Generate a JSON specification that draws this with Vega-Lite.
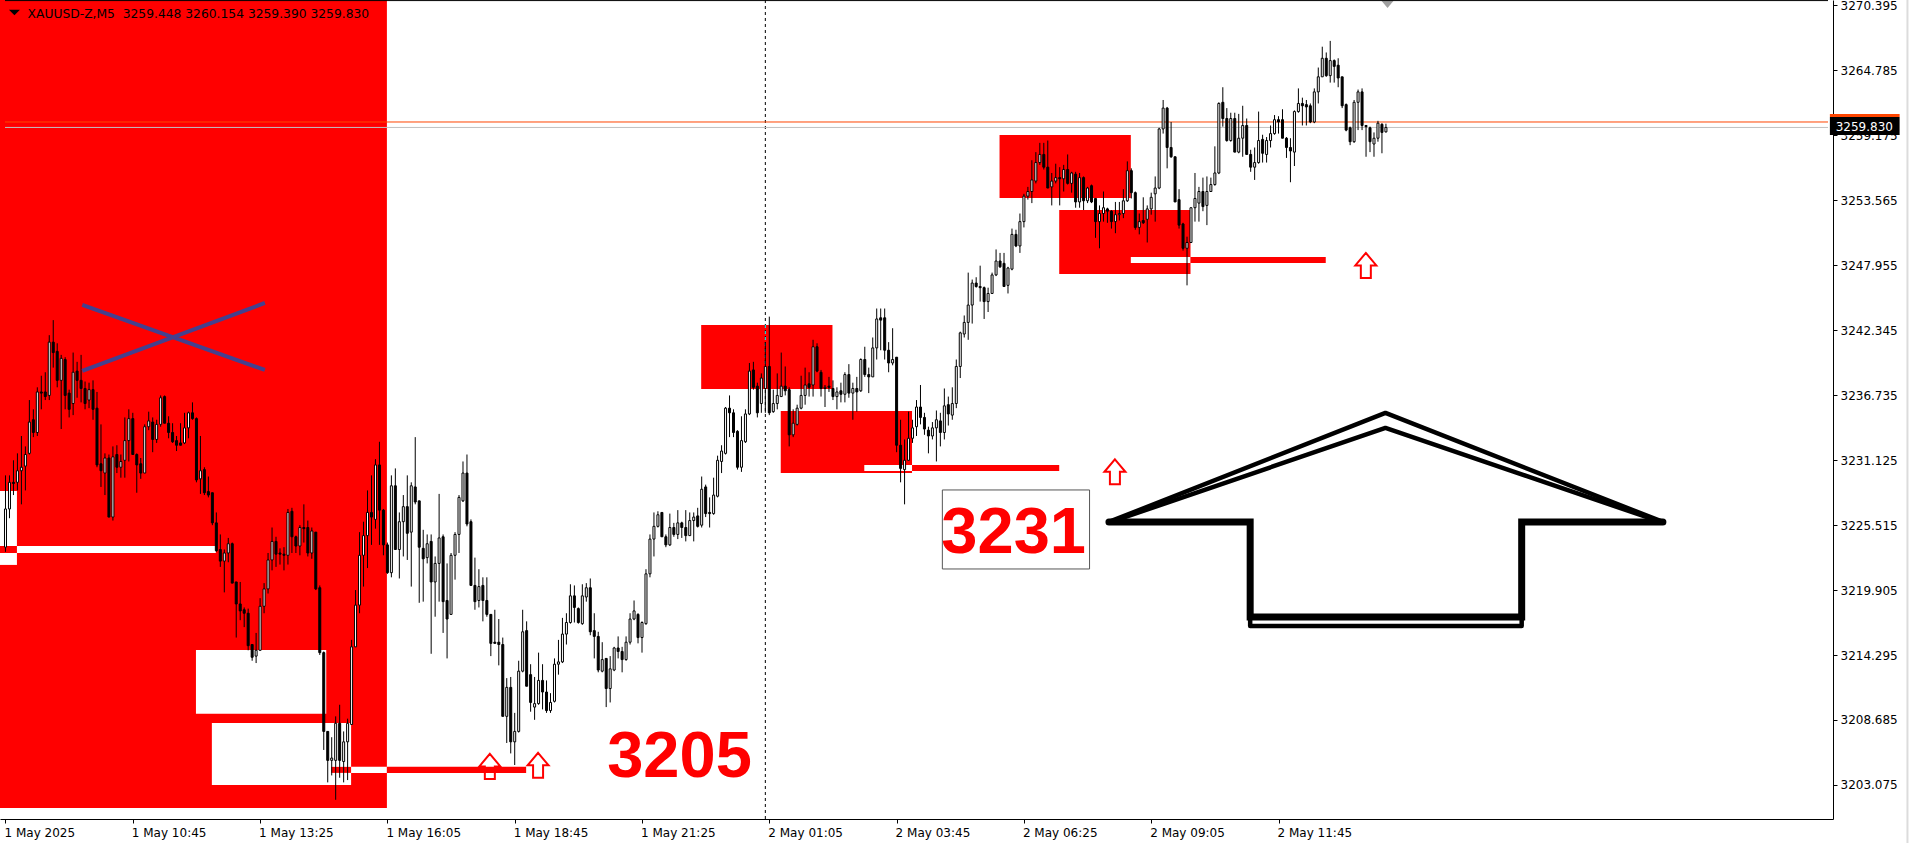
{
"$schema":"https://vega.github.io/schema/vega-lite/v6.json",
"width":1833,"height":819,
"autosize":{"type":"none"},
"padding":{"left":0,"top":0,"right":82,"bottom":24},
"background":"#FFFFFF",
"config":{"view":{"stroke":null}},
"datasets":{
"boxes":[
{"i":-2,"i2":95.875,"p":3201.1,"p2":3275,"k":"red"},
{"i":47.875,"i2":80.625,"p":3214.73,"p2":3209.22,"k":"white"},
{"i":51.875,"i2":86.875,"p":3208.43,"p2":3203.08,"k":"white"},
{"i":-2,"i2":2.875,"p":3228.46,"p2":3223.71,"k":"white"},
{"i":-2,"i2":2.875,"p":3223.10,"p2":3222.07,"k":"white"},
{"i":2.875,"i2":52.875,"p":3223.71,"p2":3223.10,"k":"white"},
{"i":174.875,"i2":207.875,"p":3242.78,"p2":3237.26,"k":"red"},
{"i":194.875,"i2":227.875,"p":3235.36,"p2":3230.01,"k":"red"},
{"i":249.875,"i2":282.875,"p":3259.18,"p2":3253.74,"k":"red"},
{"i":264.875,"i2":297.875,"p":3252.71,"p2":3247.18,"k":"red"},
{"i":81.875,"i2":86.875,"p":3204.64,"p2":3204.12,"k":"red"},
{"i":86.875,"i2":95.875,"p":3204.64,"p2":3204.12,"k":"white"},
{"i":95.875,"i2":130.875,"p":3204.64,"p2":3204.12,"k":"red"},
{"i":215.875,"i2":227.875,"p":3230.70,"p2":3230.18,"k":"white"},
{"i":227.875,"i2":264.875,"p":3230.70,"p2":3230.18,"k":"red"},
{"i":282.875,"i2":297.875,"p":3248.65,"p2":3248.13,"k":"white"},
{"i":297.875,"i2":331.875,"p":3248.65,"p2":3248.13,"k":"red"}
],
"sepb":[{"i":191,"p":3200.14,"p2":3270.83}],
"sepc":[{"i":191,"p":3242.78,"p2":3237.26}],
"lev":[{"i":-0.125,"i2":458.125,"p":3260.3,"k":"orange"},{"i":-0.125,"i2":458.125,"p":3259.83,"k":"silver"}],
"xl":[{"s":1,"n":0,"i":19.3,"p":3244.51},{"s":1,"n":1,"i":65.2,"p":3238.90},{"s":2,"n":0,"i":19.3,"p":3238.81},{"s":2,"n":1,"i":65.2,"p":3244.68}],
"ups":[{"i":121.75,"p":3204.68},{"i":133.875,"p":3204.77},{"i":278.875,"p":3230.11},{"i":341.95,"p":3247.92}],
"out":[
{"s":"a","n":0,"i":277.375,"p":3225.78},{"s":"a","n":1,"i":346.875,"p":3235.19},{"s":"a","n":2,"i":416.625,"p":3225.78},
{"s":"b","n":0,"i":277.875,"p":3225.78},{"s":"b","n":1,"i":346.875,"p":3233.89},{"s":"b","n":2,"i":416.125,"p":3225.78},
{"s":"d","n":0,"i":312.875,"p":3217.58},{"s":"d","n":1,"i":312.875,"p":3216.80},{"s":"d","n":2,"i":381.125,"p":3216.80},{"s":"d","n":3,"i":381.125,"p":3217.58},
{"s":"c","n":0,"i":277.375,"p":3225.78},{"s":"c","n":1,"i":312.875,"p":3225.78},{"s":"c","n":2,"i":312.875,"p":3217.58},{"s":"c","n":3,"i":381.125,"p":3217.58},{"s":"c","n":4,"i":381.125,"p":3225.78},{"s":"c","n":5,"i":416.625,"p":3225.78}
],
"tbox":[{"i":235.5,"i2":272.5,"p":3221.72,"p2":3228.54}],
"big":[{"i":151.25,"p":3203.77,"t":"3205"},{"i":235.25,"p":3223.10,"t":"3231"}],
"hdr":[{"i":5.55,"p":3269.30,"t":"XAUUSD-Z,M5\u00a0 3259.448 3260.154 3259.390 3259.830"}],
"tri":[{"i":2.25,"p":3269.75}],
"mark":[{"i":347.4,"p":3270.48}],
"plab":[{"i":458.6,"i2":476.125,"p":3259.18,"p2":3260.73,"k":"black"},{"i":458.6,"i2":476.125,"p":3260.73,"p2":3260.99,"k":"orange"}],
"ptxt":[{"i":460.05,"p":3259.85,"t":"3259.830"}],
"edge":[{"i":-0.125,"i2":458.125,"p":3270.78}],
"win":[{"i":478.1,"p":3270.83,"p2":3198.07}],
"c":[
{"i":0,"o":3223.6,"h":3229.8,"l":3223.2,"c":3226.9},
{"i":1,"o":3226.9,"h":3229.8,"l":3226.1,"c":3229.2},
{"i":2,"o":3229.2,"h":3231.1,"l":3228.1,"c":3229.1},
{"i":3,"o":3229.2,"h":3231.7,"l":3228.5,"c":3230.2},
{"i":4,"o":3230.2,"h":3233.2,"l":3227.3,"c":3230.5},
{"i":5,"o":3230.6,"h":3232.3,"l":3228.5,"c":3231.6},
{"i":6,"o":3231.7,"h":3236.3,"l":3231.6,"c":3234.4},
{"i":7,"o":3234.6,"h":3235.5,"l":3233.1,"c":3233.5},
{"i":8,"o":3233.5,"h":3237.4,"l":3233.2,"c":3237.0},
{"i":9,"o":3237.0,"h":3238.4,"l":3235.5,"c":3236.9},
{"i":10,"o":3237.0,"h":3238.7,"l":3236.3,"c":3236.6},
{"i":11,"o":3236.7,"h":3241.9,"l":3236.3,"c":3241.3},
{"i":12,"o":3241.3,"h":3243.2,"l":3239.1,"c":3240.4},
{"i":13,"o":3240.5,"h":3241.2,"l":3237.4,"c":3238.0},
{"i":14,"o":3238.0,"h":3240.2,"l":3233.8,"c":3239.9},
{"i":15,"o":3239.8,"h":3240.0,"l":3235.5,"c":3236.7},
{"i":16,"o":3236.9,"h":3237.2,"l":3234.8,"c":3235.5},
{"i":17,"o":3236.0,"h":3240.4,"l":3235.0,"c":3238.7},
{"i":18,"o":3238.8,"h":3239.6,"l":3236.5,"c":3238.0},
{"i":19,"o":3238.0,"h":3240.2,"l":3236.1,"c":3237.3},
{"i":20,"o":3237.3,"h":3237.9,"l":3235.5,"c":3236.0},
{"i":21,"o":3236.3,"h":3237.8,"l":3235.6,"c":3237.2},
{"i":22,"o":3237.2,"h":3238.0,"l":3234.6,"c":3235.5},
{"i":23,"o":3235.6,"h":3237.0,"l":3230.5,"c":3230.7},
{"i":24,"o":3230.8,"h":3234.2,"l":3228.8,"c":3230.2},
{"i":25,"o":3230.0,"h":3231.7,"l":3228.1,"c":3231.3},
{"i":26,"o":3231.3,"h":3231.6,"l":3226.2,"c":3226.2},
{"i":27,"o":3226.2,"h":3232.3,"l":3225.9,"c":3231.4},
{"i":28,"o":3231.6,"h":3232.4,"l":3230.0,"c":3230.5},
{"i":29,"o":3230.5,"h":3231.6,"l":3229.6,"c":3231.0},
{"i":30,"o":3231.1,"h":3234.8,"l":3229.6,"c":3232.8},
{"i":31,"o":3232.8,"h":3235.5,"l":3231.0,"c":3234.7},
{"i":32,"o":3234.7,"h":3235.2,"l":3231.6,"c":3231.6},
{"i":33,"o":3231.6,"h":3231.7,"l":3228.3,"c":3230.7},
{"i":34,"o":3230.8,"h":3231.3,"l":3229.5,"c":3230.0},
{"i":35,"o":3230.0,"h":3234.2,"l":3230.0,"c":3234.0},
{"i":36,"o":3234.0,"h":3235.3,"l":3233.7,"c":3234.5},
{"i":37,"o":3234.4,"h":3234.8,"l":3231.8,"c":3232.9},
{"i":38,"o":3232.9,"h":3234.6,"l":3232.6,"c":3234.2},
{"i":39,"o":3234.2,"h":3236.7,"l":3234.0,"c":3236.5},
{"i":40,"o":3236.6,"h":3236.7,"l":3234.3,"c":3234.3},
{"i":41,"o":3234.3,"h":3234.9,"l":3233.0,"c":3233.5},
{"i":42,"o":3233.5,"h":3234.3,"l":3232.6,"c":3232.7},
{"i":43,"o":3232.8,"h":3233.2,"l":3231.9,"c":3232.4},
{"i":44,"o":3232.6,"h":3234.3,"l":3232.4,"c":3232.4},
{"i":45,"o":3232.6,"h":3235.2,"l":3232.5,"c":3233.9},
{"i":46,"o":3233.9,"h":3235.3,"l":3233.0,"c":3235.2},
{"i":47,"o":3235.2,"h":3236.1,"l":3234.6,"c":3234.7},
{"i":48,"o":3234.7,"h":3234.8,"l":3229.2,"c":3229.4},
{"i":49,"o":3229.5,"h":3233.2,"l":3228.2,"c":3230.2},
{"i":50,"o":3230.3,"h":3230.5,"l":3228.1,"c":3228.3},
{"i":51,"o":3228.4,"h":3229.7,"l":3227.9,"c":3228.1},
{"i":52,"o":3228.3,"h":3228.3,"l":3225.5,"c":3225.7},
{"i":53,"o":3225.7,"h":3226.6,"l":3223.2,"c":3223.3},
{"i":54,"o":3223.4,"h":3224.7,"l":3221.9,"c":3222.4},
{"i":55,"o":3222.4,"h":3223.4,"l":3219.7,"c":3223.1},
{"i":56,"o":3223.1,"h":3224.4,"l":3222.3,"c":3223.9},
{"i":57,"o":3223.9,"h":3224.0,"l":3220.5,"c":3220.5},
{"i":58,"o":3220.6,"h":3220.6,"l":3215.8,"c":3218.7},
{"i":59,"o":3218.7,"h":3220.6,"l":3217.3,"c":3218.1},
{"i":60,"o":3218.2,"h":3218.4,"l":3216.7,"c":3217.9},
{"i":61,"o":3217.9,"h":3218.3,"l":3214.7,"c":3215.1},
{"i":62,"o":3215.2,"h":3215.2,"l":3213.8,"c":3214.1},
{"i":63,"o":3214.2,"h":3216.2,"l":3213.6,"c":3214.7},
{"i":64,"o":3214.7,"h":3219.2,"l":3214.7,"c":3218.5},
{"i":65,"o":3218.5,"h":3220.5,"l":3217.9,"c":3220.0},
{"i":66,"o":3220.0,"h":3223.1,"l":3219.6,"c":3222.5},
{"i":67,"o":3222.5,"h":3225.3,"l":3221.6,"c":3224.1},
{"i":68,"o":3224.1,"h":3224.5,"l":3221.9,"c":3223.0},
{"i":69,"o":3223.1,"h":3223.5,"l":3222.1,"c":3223.0},
{"i":70,"o":3223.0,"h":3223.6,"l":3221.6,"c":3222.9},
{"i":71,"o":3222.9,"h":3226.9,"l":3222.1,"c":3226.6},
{"i":72,"o":3226.7,"h":3227.0,"l":3223.1,"c":3224.5},
{"i":73,"o":3224.5,"h":3224.6,"l":3223.1,"c":3223.7},
{"i":74,"o":3223.7,"h":3225.5,"l":3222.9,"c":3225.3},
{"i":75,"o":3225.3,"h":3227.3,"l":3224.0,"c":3225.2},
{"i":76,"o":3225.3,"h":3225.9,"l":3222.8,"c":3223.1},
{"i":77,"o":3223.1,"h":3225.3,"l":3222.6,"c":3225.0},
{"i":78,"o":3224.9,"h":3224.9,"l":3219.9,"c":3220.0},
{"i":79,"o":3220.1,"h":3220.3,"l":3214.3,"c":3214.5},
{"i":80,"o":3214.5,"h":3214.6,"l":3206.1,"c":3207.7},
{"i":81,"o":3207.7,"h":3207.7,"l":3203.3,"c":3205.2},
{"i":82,"o":3205.2,"h":3207.2,"l":3203.9,"c":3205.4},
{"i":83,"o":3205.2,"h":3209.0,"l":3201.8,"c":3208.4},
{"i":84,"o":3208.4,"h":3210.0,"l":3203.7,"c":3205.2},
{"i":85,"o":3205.1,"h":3207.7,"l":3203.3,"c":3206.8},
{"i":86,"o":3206.8,"h":3208.8,"l":3203.5,"c":3208.4},
{"i":87,"o":3208.3,"h":3215.6,"l":3208.3,"c":3215.0},
{"i":88,"o":3215.0,"h":3219.9,"l":3215.0,"c":3218.6},
{"i":89,"o":3218.6,"h":3224.9,"l":3217.9,"c":3222.9},
{"i":90,"o":3222.9,"h":3225.8,"l":3220.2,"c":3224.6},
{"i":91,"o":3224.6,"h":3228.5,"l":3221.8,"c":3226.6},
{"i":92,"o":3226.6,"h":3229.8,"l":3223.8,"c":3226.2},
{"i":93,"o":3226.0,"h":3231.2,"l":3225.2,"c":3230.7},
{"i":94,"o":3230.7,"h":3232.7,"l":3223.8,"c":3226.8},
{"i":95,"o":3226.8,"h":3226.9,"l":3222.9,"c":3223.8},
{"i":96,"o":3223.8,"h":3224.0,"l":3221.3,"c":3221.4},
{"i":97,"o":3221.4,"h":3229.8,"l":3221.0,"c":3228.9},
{"i":98,"o":3228.9,"h":3230.4,"l":3223.4,"c":3223.4},
{"i":99,"o":3223.4,"h":3226.6,"l":3220.9,"c":3225.8},
{"i":100,"o":3225.8,"h":3228.1,"l":3222.8,"c":3227.1},
{"i":101,"o":3227.1,"h":3229.8,"l":3222.5,"c":3224.8},
{"i":102,"o":3224.9,"h":3229.2,"l":3220.2,"c":3228.9},
{"i":103,"o":3228.8,"h":3233.1,"l":3227.3,"c":3227.5},
{"i":104,"o":3227.6,"h":3227.6,"l":3218.8,"c":3223.6},
{"i":105,"o":3223.5,"h":3225.1,"l":3218.9,"c":3222.6},
{"i":106,"o":3222.7,"h":3224.7,"l":3222.2,"c":3223.9},
{"i":107,"o":3224.1,"h":3224.7,"l":3214.4,"c":3220.6},
{"i":108,"o":3220.6,"h":3222.8,"l":3217.6,"c":3222.2},
{"i":109,"o":3222.2,"h":3228.2,"l":3218.9,"c":3224.4},
{"i":110,"o":3224.5,"h":3224.7,"l":3216.2,"c":3218.9},
{"i":111,"o":3219.0,"h":3222.2,"l":3214.0,"c":3217.4},
{"i":112,"o":3217.8,"h":3223.1,"l":3217.8,"c":3222.9},
{"i":113,"o":3222.9,"h":3224.9,"l":3220.8,"c":3224.7},
{"i":114,"o":3224.7,"h":3228.1,"l":3223.1,"c":3227.9},
{"i":115,"o":3227.6,"h":3231.0,"l":3227.5,"c":3230.0},
{"i":116,"o":3230.0,"h":3231.6,"l":3225.4,"c":3225.6},
{"i":117,"o":3225.8,"h":3226.0,"l":3220.3,"c":3220.3},
{"i":118,"o":3220.3,"h":3222.7,"l":3218.2,"c":3218.9},
{"i":119,"o":3219.0,"h":3221.7,"l":3218.4,"c":3220.2},
{"i":120,"o":3220.3,"h":3221.0,"l":3217.2,"c":3219.0},
{"i":121,"o":3219.0,"h":3221.0,"l":3217.6,"c":3217.8},
{"i":122,"o":3217.8,"h":3217.8,"l":3214.2,"c":3215.3},
{"i":123,"o":3215.4,"h":3218.2,"l":3215.3,"c":3215.3},
{"i":124,"o":3215.4,"h":3217.4,"l":3213.4,"c":3215.2},
{"i":125,"o":3215.2,"h":3215.8,"l":3209.0,"c":3209.0},
{"i":126,"o":3209.0,"h":3212.3,"l":3206.7,"c":3211.5},
{"i":127,"o":3211.5,"h":3212.4,"l":3205.8,"c":3206.8},
{"i":128,"o":3206.8,"h":3209.3,"l":3204.8,"c":3207.7},
{"i":129,"o":3207.7,"h":3213.8,"l":3207.6,"c":3212.9},
{"i":130,"o":3212.9,"h":3218.2,"l":3212.8,"c":3216.3},
{"i":131,"o":3216.4,"h":3217.2,"l":3211.6,"c":3211.6},
{"i":132,"o":3212.6,"h":3213.5,"l":3209.4,"c":3210.2},
{"i":133,"o":3209.8,"h":3212.4,"l":3208.7,"c":3210.1},
{"i":134,"o":3210.1,"h":3214.5,"l":3210.0,"c":3212.1},
{"i":135,"o":3212.1,"h":3213.5,"l":3209.6,"c":3211.1},
{"i":136,"o":3211.1,"h":3212.1,"l":3209.3,"c":3209.5},
{"i":137,"o":3209.5,"h":3211.0,"l":3209.3,"c":3210.2},
{"i":138,"o":3210.3,"h":3214.0,"l":3210.2,"c":3213.5},
{"i":139,"o":3213.5,"h":3215.6,"l":3212.6,"c":3213.7},
{"i":140,"o":3213.7,"h":3217.5,"l":3213.6,"c":3216.1},
{"i":141,"o":3216.1,"h":3217.9,"l":3215.2,"c":3217.1},
{"i":142,"o":3217.1,"h":3220.4,"l":3217.0,"c":3219.4},
{"i":143,"o":3219.4,"h":3220.3,"l":3217.1,"c":3218.4},
{"i":144,"o":3218.3,"h":3218.4,"l":3217.0,"c":3217.1},
{"i":145,"o":3217.0,"h":3220.4,"l":3216.9,"c":3219.4},
{"i":146,"o":3219.3,"h":3220.5,"l":3218.9,"c":3220.1},
{"i":147,"o":3220.1,"h":3220.9,"l":3216.0,"c":3216.3},
{"i":148,"o":3216.4,"h":3217.9,"l":3214.0,"c":3215.9},
{"i":149,"o":3215.9,"h":3216.3,"l":3212.8,"c":3213.0},
{"i":150,"o":3212.9,"h":3215.4,"l":3212.8,"c":3213.9},
{"i":151,"o":3214.0,"h":3214.0,"l":3209.8,"c":3211.4},
{"i":152,"o":3211.4,"h":3214.2,"l":3210.2,"c":3213.1},
{"i":153,"o":3213.0,"h":3215.0,"l":3212.9,"c":3214.9},
{"i":154,"o":3214.9,"h":3215.9,"l":3214.0,"c":3214.6},
{"i":155,"o":3214.6,"h":3215.0,"l":3212.8,"c":3213.9},
{"i":156,"o":3213.9,"h":3215.9,"l":3213.8,"c":3215.4},
{"i":157,"o":3215.4,"h":3217.9,"l":3215.2,"c":3217.4},
{"i":158,"o":3217.4,"h":3219.0,"l":3217.3,"c":3218.1},
{"i":159,"o":3217.8,"h":3217.9,"l":3215.3,"c":3215.8},
{"i":160,"o":3215.8,"h":3217.2,"l":3214.5,"c":3217.1},
{"i":161,"o":3217.0,"h":3221.7,"l":3216.9,"c":3221.3},
{"i":162,"o":3221.3,"h":3224.7,"l":3221.0,"c":3224.3},
{"i":163,"o":3224.3,"h":3226.6,"l":3222.8,"c":3225.4},
{"i":164,"o":3225.4,"h":3226.7,"l":3225.3,"c":3226.4},
{"i":165,"o":3226.6,"h":3226.6,"l":3224.5,"c":3224.5},
{"i":166,"o":3224.5,"h":3224.7,"l":3223.6,"c":3223.8},
{"i":167,"o":3223.8,"h":3226.5,"l":3223.7,"c":3225.3},
{"i":168,"o":3225.3,"h":3225.7,"l":3224.5,"c":3224.7},
{"i":169,"o":3224.7,"h":3226.8,"l":3224.3,"c":3225.7},
{"i":170,"o":3225.7,"h":3225.8,"l":3224.4,"c":3225.3},
{"i":171,"o":3225.3,"h":3226.8,"l":3224.1,"c":3224.6},
{"i":172,"o":3224.6,"h":3226.6,"l":3224.6,"c":3225.9},
{"i":173,"o":3225.9,"h":3226.6,"l":3224.1,"c":3226.2},
{"i":174,"o":3226.3,"h":3227.0,"l":3225.3,"c":3225.4},
{"i":175,"o":3225.5,"h":3229.7,"l":3225.3,"c":3228.6},
{"i":176,"o":3228.8,"h":3229.0,"l":3226.2,"c":3226.5},
{"i":177,"o":3226.6,"h":3227.9,"l":3225.3,"c":3226.5},
{"i":178,"o":3226.5,"h":3229.6,"l":3226.4,"c":3228.1},
{"i":179,"o":3228.0,"h":3231.5,"l":3227.9,"c":3231.1},
{"i":180,"o":3231.0,"h":3232.4,"l":3230.0,"c":3231.9},
{"i":181,"o":3231.7,"h":3235.7,"l":3231.6,"c":3235.6},
{"i":182,"o":3235.6,"h":3236.7,"l":3233.1,"c":3235.2},
{"i":183,"o":3235.2,"h":3235.5,"l":3233.1,"c":3233.5},
{"i":184,"o":3233.6,"h":3233.7,"l":3230.3,"c":3230.5},
{"i":185,"o":3230.5,"h":3234.9,"l":3230.1,"c":3232.8},
{"i":186,"o":3232.7,"h":3235.5,"l":3232.6,"c":3235.1},
{"i":187,"o":3235.1,"h":3239.5,"l":3235.0,"c":3238.8},
{"i":188,"o":3238.9,"h":3239.6,"l":3237.2,"c":3237.4},
{"i":189,"o":3237.5,"h":3237.8,"l":3234.8,"c":3235.2},
{"i":190,"o":3236.0,"h":3238.6,"l":3235.2,"c":3238.2},
{"i":191,"o":3237.3,"h":3241.3,"l":3235.2,"c":3239.2},
{"i":192,"o":3239.2,"h":3243.5,"l":3235.0,"c":3235.2},
{"i":193,"o":3235.3,"h":3237.2,"l":3235.2,"c":3236.0},
{"i":194,"o":3236.0,"h":3238.6,"l":3235.5,"c":3236.7},
{"i":195,"o":3236.6,"h":3240.4,"l":3236.6,"c":3237.5},
{"i":196,"o":3237.5,"h":3239.2,"l":3236.7,"c":3237.1},
{"i":197,"o":3237.2,"h":3237.4,"l":3232.3,"c":3233.3},
{"i":198,"o":3233.3,"h":3235.5,"l":3233.1,"c":3234.3},
{"i":199,"o":3234.2,"h":3235.9,"l":3234.1,"c":3235.6},
{"i":200,"o":3235.6,"h":3238.4,"l":3235.5,"c":3236.7},
{"i":201,"o":3236.7,"h":3239.1,"l":3235.9,"c":3237.6},
{"i":202,"o":3237.7,"h":3238.7,"l":3236.6,"c":3237.4},
{"i":203,"o":3237.6,"h":3241.5,"l":3236.6,"c":3240.9},
{"i":204,"o":3240.9,"h":3241.2,"l":3238.7,"c":3238.8},
{"i":205,"o":3238.7,"h":3238.9,"l":3236.6,"c":3237.3},
{"i":206,"o":3237.3,"h":3237.6,"l":3235.7,"c":3237.4},
{"i":207,"o":3237.5,"h":3238.3,"l":3237.0,"c":3237.4},
{"i":208,"o":3237.3,"h":3238.0,"l":3236.3,"c":3236.6},
{"i":209,"o":3236.6,"h":3237.4,"l":3235.5,"c":3237.0},
{"i":210,"o":3237.1,"h":3237.8,"l":3236.1,"c":3236.8},
{"i":211,"o":3236.8,"h":3238.7,"l":3236.1,"c":3238.5},
{"i":212,"o":3238.5,"h":3239.4,"l":3236.5,"c":3236.9},
{"i":213,"o":3236.9,"h":3237.8,"l":3234.6,"c":3237.3},
{"i":214,"o":3237.3,"h":3238.3,"l":3235.3,"c":3237.0},
{"i":215,"o":3237.1,"h":3239.9,"l":3237.0,"c":3239.8},
{"i":216,"o":3239.8,"h":3240.9,"l":3238.3,"c":3238.5},
{"i":217,"o":3238.5,"h":3239.1,"l":3236.9,"c":3238.3},
{"i":218,"o":3238.3,"h":3241.7,"l":3238.3,"c":3240.8},
{"i":219,"o":3240.8,"h":3244.2,"l":3239.8,"c":3243.3},
{"i":220,"o":3243.4,"h":3244.2,"l":3240.6,"c":3243.2},
{"i":221,"o":3243.4,"h":3244.2,"l":3239.8,"c":3240.6},
{"i":222,"o":3240.6,"h":3241.3,"l":3238.7,"c":3239.5},
{"i":223,"o":3239.5,"h":3242.5,"l":3239.3,"c":3239.8},
{"i":224,"o":3240.0,"h":3240.0,"l":3231.8,"c":3232.4},
{"i":225,"o":3232.4,"h":3234.6,"l":3229.2,"c":3230.4},
{"i":226,"o":3230.3,"h":3232.9,"l":3227.3,"c":3231.1},
{"i":227,"o":3231.1,"h":3235.3,"l":3231.1,"c":3233.0},
{"i":228,"o":3233.0,"h":3234.6,"l":3232.6,"c":3233.9},
{"i":229,"o":3234.0,"h":3236.3,"l":3233.2,"c":3235.7},
{"i":230,"o":3235.7,"h":3237.6,"l":3234.2,"c":3234.8},
{"i":231,"o":3234.8,"h":3235.2,"l":3233.3,"c":3233.8},
{"i":232,"o":3233.7,"h":3234.0,"l":3231.7,"c":3233.2},
{"i":233,"o":3233.2,"h":3234.4,"l":3232.9,"c":3233.9},
{"i":234,"o":3233.9,"h":3235.4,"l":3231.0,"c":3234.6},
{"i":235,"o":3234.5,"h":3235.2,"l":3232.3,"c":3233.5},
{"i":236,"o":3233.5,"h":3237.3,"l":3232.9,"c":3235.8},
{"i":237,"o":3235.9,"h":3236.6,"l":3234.1,"c":3235.1},
{"i":238,"o":3235.0,"h":3237.4,"l":3234.6,"c":3236.0},
{"i":239,"o":3236.0,"h":3239.8,"l":3235.6,"c":3239.2},
{"i":240,"o":3239.2,"h":3242.2,"l":3238.2,"c":3242.1},
{"i":241,"o":3242.0,"h":3243.6,"l":3241.7,"c":3243.0},
{"i":242,"o":3243.0,"h":3247.3,"l":3241.5,"c":3244.5},
{"i":243,"o":3244.5,"h":3246.7,"l":3242.9,"c":3246.4},
{"i":244,"o":3246.4,"h":3246.9,"l":3246.0,"c":3246.1},
{"i":245,"o":3246.1,"h":3247.9,"l":3244.8,"c":3246.0},
{"i":246,"o":3246.0,"h":3246.1,"l":3243.3,"c":3244.8},
{"i":247,"o":3244.8,"h":3246.0,"l":3243.9,"c":3245.5},
{"i":248,"o":3245.5,"h":3247.3,"l":3245.5,"c":3247.1},
{"i":249,"o":3247.1,"h":3249.3,"l":3247.0,"c":3248.3},
{"i":250,"o":3248.3,"h":3249.0,"l":3247.7,"c":3247.8},
{"i":251,"o":3248.1,"h":3249.0,"l":3246.1,"c":3246.1},
{"i":252,"o":3246.2,"h":3247.8,"l":3245.5,"c":3247.7},
{"i":253,"o":3247.6,"h":3251.1,"l":3247.5,"c":3250.6},
{"i":254,"o":3250.6,"h":3251.0,"l":3249.5,"c":3249.6},
{"i":255,"o":3249.6,"h":3252.4,"l":3249.0,"c":3251.7},
{"i":256,"o":3251.7,"h":3254.1,"l":3251.2,"c":3253.9},
{"i":257,"o":3253.9,"h":3254.7,"l":3253.6,"c":3254.3},
{"i":258,"o":3254.3,"h":3257.0,"l":3253.3,"c":3255.3},
{"i":259,"o":3255.2,"h":3257.7,"l":3255.0,"c":3256.8},
{"i":260,"o":3256.8,"h":3258.5,"l":3256.6,"c":3257.5},
{"i":261,"o":3257.5,"h":3258.5,"l":3256.2,"c":3256.4},
{"i":262,"o":3256.4,"h":3258.7,"l":3254.6,"c":3254.6},
{"i":263,"o":3254.7,"h":3255.9,"l":3253.1,"c":3255.2},
{"i":264,"o":3255.2,"h":3256.7,"l":3255.0,"c":3255.5},
{"i":265,"o":3255.5,"h":3256.4,"l":3253.1,"c":3255.4},
{"i":266,"o":3255.4,"h":3256.6,"l":3254.3,"c":3256.2},
{"i":267,"o":3256.2,"h":3257.5,"l":3254.9,"c":3255.0},
{"i":268,"o":3255.0,"h":3256.0,"l":3254.2,"c":3255.9},
{"i":269,"o":3255.8,"h":3256.0,"l":3252.9,"c":3253.4},
{"i":270,"o":3253.4,"h":3255.9,"l":3252.9,"c":3255.5},
{"i":271,"o":3255.5,"h":3255.6,"l":3252.7,"c":3253.5},
{"i":272,"o":3253.5,"h":3254.7,"l":3253.3,"c":3254.6},
{"i":273,"o":3254.8,"h":3254.9,"l":3253.3,"c":3253.4},
{"i":274,"o":3253.7,"h":3253.7,"l":3250.3,"c":3251.7},
{"i":275,"o":3251.7,"h":3253.1,"l":3249.4,"c":3252.4},
{"i":276,"o":3252.4,"h":3254.3,"l":3251.7,"c":3252.9},
{"i":277,"o":3252.8,"h":3252.9,"l":3251.6,"c":3252.6},
{"i":278,"o":3252.6,"h":3252.7,"l":3251.1,"c":3251.7},
{"i":279,"o":3251.7,"h":3253.4,"l":3250.7,"c":3252.3},
{"i":280,"o":3252.3,"h":3253.4,"l":3251.8,"c":3252.4},
{"i":281,"o":3252.4,"h":3254.5,"l":3252.0,"c":3253.5},
{"i":282,"o":3253.5,"h":3256.9,"l":3253.4,"c":3256.1},
{"i":283,"o":3256.1,"h":3256.3,"l":3253.7,"c":3254.2},
{"i":284,"o":3254.2,"h":3254.3,"l":3251.0,"c":3251.2},
{"i":285,"o":3251.2,"h":3252.4,"l":3250.6,"c":3251.7},
{"i":286,"o":3251.8,"h":3253.8,"l":3251.5,"c":3251.6},
{"i":287,"o":3251.9,"h":3253.1,"l":3249.9,"c":3252.8},
{"i":288,"o":3252.8,"h":3254.2,"l":3252.3,"c":3253.8},
{"i":289,"o":3254.1,"h":3255.6,"l":3251.7,"c":3254.6},
{"i":290,"o":3254.6,"h":3259.8,"l":3254.5,"c":3259.7},
{"i":291,"o":3259.7,"h":3262.2,"l":3259.3,"c":3261.5},
{"i":292,"o":3261.5,"h":3261.6,"l":3256.3,"c":3258.1},
{"i":293,"o":3258.1,"h":3260.3,"l":3257.2,"c":3257.3},
{"i":294,"o":3257.3,"h":3257.3,"l":3253.4,"c":3253.4},
{"i":295,"o":3253.6,"h":3254.5,"l":3251.1,"c":3251.4},
{"i":296,"o":3251.5,"h":3251.6,"l":3249.2,"c":3249.4},
{"i":297,"o":3249.4,"h":3250.4,"l":3246.2,"c":3249.9},
{"i":298,"o":3249.9,"h":3252.9,"l":3249.9,"c":3252.9},
{"i":299,"o":3252.9,"h":3255.9,"l":3251.7,"c":3253.7},
{"i":300,"o":3253.3,"h":3254.7,"l":3251.7,"c":3254.3},
{"i":301,"o":3254.3,"h":3255.5,"l":3252.6,"c":3253.0},
{"i":302,"o":3253.1,"h":3255.6,"l":3251.4,"c":3254.3},
{"i":303,"o":3254.3,"h":3255.5,"l":3254.3,"c":3254.9},
{"i":304,"o":3254.9,"h":3258.2,"l":3254.8,"c":3255.9},
{"i":305,"o":3255.9,"h":3262.0,"l":3255.8,"c":3261.9},
{"i":306,"o":3262.0,"h":3263.3,"l":3259.9,"c":3260.6},
{"i":307,"o":3260.6,"h":3261.5,"l":3258.6,"c":3258.7},
{"i":308,"o":3258.7,"h":3261.1,"l":3258.6,"c":3260.6},
{"i":309,"o":3260.6,"h":3261.1,"l":3257.7,"c":3257.7},
{"i":310,"o":3257.7,"h":3261.0,"l":3257.6,"c":3258.9},
{"i":311,"o":3258.9,"h":3261.7,"l":3257.3,"c":3260.0},
{"i":312,"o":3260.0,"h":3260.6,"l":3257.5,"c":3257.5},
{"i":313,"o":3257.5,"h":3257.9,"l":3256.0,"c":3256.4},
{"i":314,"o":3256.4,"h":3258.1,"l":3255.3,"c":3256.8},
{"i":315,"o":3256.8,"h":3261.2,"l":3256.7,"c":3258.7},
{"i":316,"o":3258.8,"h":3259.2,"l":3256.8,"c":3257.6},
{"i":317,"o":3257.5,"h":3259.0,"l":3256.8,"c":3258.7},
{"i":318,"o":3258.7,"h":3260.0,"l":3258.1,"c":3259.3},
{"i":319,"o":3259.3,"h":3260.9,"l":3259.2,"c":3260.5},
{"i":320,"o":3260.5,"h":3260.8,"l":3259.3,"c":3260.3},
{"i":321,"o":3260.5,"h":3261.4,"l":3258.9,"c":3258.9},
{"i":322,"o":3258.9,"h":3259.0,"l":3257.2,"c":3258.1},
{"i":323,"o":3258.1,"h":3258.9,"l":3255.1,"c":3257.8},
{"i":324,"o":3257.7,"h":3261.3,"l":3256.5,"c":3261.2},
{"i":325,"o":3261.2,"h":3263.2,"l":3261.1,"c":3261.9},
{"i":326,"o":3261.9,"h":3262.4,"l":3260.0,"c":3261.7},
{"i":327,"o":3261.8,"h":3262.2,"l":3260.0,"c":3261.6},
{"i":328,"o":3261.7,"h":3261.9,"l":3260.2,"c":3260.3},
{"i":329,"o":3260.3,"h":3263.2,"l":3260.2,"c":3262.9},
{"i":330,"o":3262.9,"h":3265.0,"l":3261.9,"c":3264.2},
{"i":331,"o":3264.2,"h":3266.8,"l":3264.2,"c":3265.8},
{"i":332,"o":3265.8,"h":3266.3,"l":3264.2,"c":3264.3},
{"i":333,"o":3264.3,"h":3267.3,"l":3263.7,"c":3265.6},
{"i":334,"o":3265.6,"h":3265.7,"l":3263.7,"c":3265.1},
{"i":335,"o":3265.2,"h":3265.8,"l":3263.3,"c":3264.1},
{"i":336,"o":3264.2,"h":3264.2,"l":3261.5,"c":3261.7},
{"i":337,"o":3261.8,"h":3261.9,"l":3259.5,"c":3259.6},
{"i":338,"o":3259.8,"h":3259.9,"l":3258.3,"c":3258.6},
{"i":339,"o":3258.6,"h":3262.2,"l":3258.5,"c":3262.0},
{"i":340,"o":3262.0,"h":3263.1,"l":3259.6,"c":3262.9},
{"i":341,"o":3262.9,"h":3263.2,"l":3259.6,"c":3260.0},
{"i":342,"o":3260.0,"h":3260.0,"l":3257.3,"c":3259.9},
{"i":343,"o":3259.8,"h":3259.9,"l":3257.7,"c":3258.6},
{"i":344,"o":3258.4,"h":3259.4,"l":3257.3,"c":3258.9},
{"i":345,"o":3258.9,"h":3260.4,"l":3258.6,"c":3260.2},
{"i":346,"o":3260.1,"h":3260.2,"l":3257.6,"c":3259.4},
{"i":347,"o":3259.448,"h":3260.154,"l":3259.39,"c":3259.83}
]
},
"encoding":{
 "x":{"field":"i","type":"quantitative","scale":{"domain":[-0.125,458.125],"nice":false,"zero":false},
  "axis":{"title":null,"orient":"bottom","values":[0,32,64,96,128,160,192,224,256,288,320],
   "labelExpr":"['1 May 2025','1 May 10:45','1 May 13:25','1 May 16:05','1 May 18:45','1 May 21:25','2 May 01:05','2 May 03:45','2 May 06:25','2 May 09:05','2 May 11:45'][round(datum.value/32)]",
   "labelAlign":"left","labelBaseline":"top","labelPadding":4,"labelOffset":-1.5,"labelFlush":false,"labelOverlap":false,"labelBound":false,
   "tickSize":4,"grid":false,"domainColor":"#000000","tickColor":"#000000","labelColor":"#000000","labelFont":"DejaVu Sans","labelFontSize":12}},
 "y":{"field":"p","type":"quantitative","scale":{"domain":[3200.14,3270.83],"nice":false,"zero":false},
  "axis":{"title":null,"orient":"right","values":[3203.075,3208.685,3214.295,3219.905,3225.515,3231.125,3236.735,3242.345,3247.955,3253.565,3259.175,3264.785,3270.395],
   "format":".3f","labelPadding":3,"labelFlush":false,"labelOverlap":false,"labelBound":false,"tickSize":4,"grid":false,
   "domainColor":"#000000","tickColor":"#000000","labelColor":"#000000","labelFont":"DejaVu Sans","labelFontSize":12}}
},
"layer":[
{"data":{"name":"boxes"},"mark":{"type":"rect","clip":true},
 "encoding":{"x2":{"field":"i2"},"y2":{"field":"p2"},
  "color":{"field":"k","type":"nominal","legend":null,"scale":{"domain":["red","white","black","orange","silver","cyan","gray"],"range":["#FF0000","#FFFFFF","#000000","#FF4500","#C0C0C0","#00FFFF","#A0A0A0"]}}}},
{"data":{"name":"sepb"},"mark":{"type":"rule","strokeDash":[3,3],"color":"#000000","strokeWidth":1},"encoding":{"y2":{"field":"p2"}}},
{"data":{"name":"sepc"},"mark":{"type":"rule","strokeDash":[3,3],"color":"#00FFFF","strokeWidth":1},"encoding":{"y2":{"field":"p2"}}},
{"data":{"name":"lev"},"mark":{"type":"rule","strokeWidth":1},
 "encoding":{"x2":{"field":"i2"},
  "color":{"field":"k","type":"nominal","legend":null,"scale":{"domain":["red","white","black","orange","silver","cyan","gray"],"range":["#FF0000","#FFFFFF","#000000","#FF4500","#C0C0C0","#00FFFF","#A0A0A0"]}}}},
{"data":{"name":"c"},"mark":{"type":"rule","color":"#000000","strokeWidth":1},
 "encoding":{
  "y":{"field":"l","type":"quantitative","scale":{"domain":[3200.14,3270.83],"nice":false,"zero":false},
   "axis":{"title":null,"orient":"right","values":[3203.075,3208.685,3214.295,3219.905,3225.515,3231.125,3236.735,3242.345,3247.955,3253.565,3259.175,3264.785,3270.395],
    "format":".3f","labelPadding":3,"labelFlush":false,"labelOverlap":false,"labelBound":false,"tickSize":4,"grid":false,
    "domainColor":"#000000","tickColor":"#000000","labelColor":"#000000","labelFont":"DejaVu Sans","labelFontSize":12}},
  "y2":{"field":"h"}}},
{"data":{"name":"c"},"mark":{"type":"bar","width":2,"stroke":"#000000","strokeWidth":1},
 "encoding":{
  "y":{"field":"o","type":"quantitative","scale":{"domain":[3200.14,3270.83],"nice":false,"zero":false},
   "axis":{"title":null,"orient":"right","values":[3203.075,3208.685,3214.295,3219.905,3225.515,3231.125,3236.735,3242.345,3247.955,3253.565,3259.175,3264.785,3270.395],
    "format":".3f","labelPadding":3,"labelFlush":false,"labelOverlap":false,"labelBound":false,"tickSize":4,"grid":false,
    "domainColor":"#000000","tickColor":"#000000","labelColor":"#000000","labelFont":"DejaVu Sans","labelFontSize":12}},
  "y2":{"field":"c"},
  "fill":{"condition":{"test":"datum.c >= datum.o","value":"#FFFFFF"},"value":"#000000"}}},
{"data":{"name":"xl"},"mark":{"type":"line","color":"#45408E","strokeWidth":4,"strokeCap":"butt"},
 "encoding":{"detail":{"field":"s","type":"nominal"},"order":{"field":"n","type":"quantitative"}}},
{"data":{"name":"ups"},"mark":{"type":"point","shape":"M0,-1L0.84,0L0.4,0L0.4,1L-0.4,1L-0.4,0L-0.84,0Z","size":625,"filled":false,"color":"#FF0000","strokeWidth":2,"opacity":1}},
{"data":{"name":"out"},"transform":[{"filter":"datum.s!='c'"}],"mark":{"type":"line","color":"#000000","strokeWidth":4.5,"strokeCap":"round","strokeJoin":"round"},
 "encoding":{"detail":{"field":"s","type":"nominal"},"order":{"field":"n","type":"quantitative"}}},
{"data":{"name":"out"},"transform":[{"filter":"datum.s=='c'"}],"mark":{"type":"line","color":"#000000","strokeWidth":7,"strokeCap":"round","strokeJoin":"miter"},
 "encoding":{"order":{"field":"n","type":"quantitative"}}},
{"data":{"name":"tbox"},"mark":{"type":"rect","fill":"#FFFFFF","stroke":"#555555","strokeWidth":1},
 "encoding":{"x2":{"field":"i2"},"y2":{"field":"p2"}}},
{"data":{"name":"big"},"mark":{"type":"text","align":"left","baseline":"alphabetic","font":"Liberation Sans","fontWeight":"bold","fontSize":65,"color":"#FF0000"},
 "encoding":{"text":{"field":"t"}}},
{"data":{"name":"hdr"},"mark":{"type":"text","align":"left","baseline":"alphabetic","font":"DejaVu Sans","fontSize":12.3,"color":"#000000"},
 "encoding":{"text":{"field":"t"}}},
{"data":{"name":"tri"},"mark":{"type":"point","shape":"M-1,-0.5L1,-0.5L0,0.5Z","size":121,"filled":true,"color":"#000000","opacity":1}},
{"data":{"name":"mark"},"mark":{"type":"point","shape":"M-1,-0.6L1,-0.6L0,0.6Z","size":169,"filled":true,"color":"#A0A0A0","opacity":1}},
{"data":{"name":"edge"},"mark":{"type":"rule","color":"#000000","strokeWidth":1},"encoding":{"x2":{"field":"i2"}}},
{"data":{"name":"win"},"mark":{"type":"rule","color":"#DCDCDC","strokeWidth":2},"encoding":{"y2":{"field":"p2"}}},
{"data":{"name":"plab"},"mark":{"type":"rect"},
 "encoding":{"x2":{"field":"i2"},"y2":{"field":"p2"},
  "color":{"field":"k","type":"nominal","legend":null,"scale":{"domain":["red","white","black","orange","silver","cyan","gray"],"range":["#FF0000","#FFFFFF","#000000","#FF4500","#C0C0C0","#00FFFF","#A0A0A0"]}}}},
{"data":{"name":"ptxt"},"mark":{"type":"text","align":"left","baseline":"middle","font":"DejaVu Sans","fontSize":12,"color":"#FFFFFF"},
 "encoding":{"text":{"field":"t"}}}
]
}
